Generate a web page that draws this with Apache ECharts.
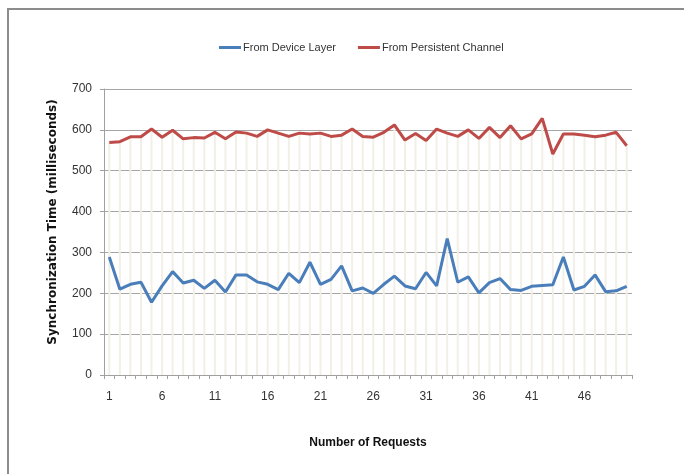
<!DOCTYPE html>
<html>
<head>
<meta charset="utf-8">
<script src="https://cdn.jsdelivr.net/npm/echarts@6/dist/echarts.min.js"></script>
<style>
  html, body { margin: 0; padding: 0; background: #fff; }
  #chart { width: 684px; height: 474px; }
</style>
</head>
<body>
<div id="chart"></div>
<script>
// Request numbers 1..50
const requests = [
  1, 2, 3, 4, 5, 6, 7, 8, 9, 10,
  11, 12, 13, 14, 15, 16, 17, 18, 19, 20,
  21, 22, 23, 24, 25, 26, 27, 28, 29, 30,
  31, 32, 33, 34, 35, 36, 37, 38, 39, 40,
  41, 42, 43, 44, 45, 46, 47, 48, 49, 50
];

// Synchronization time (ms) measured from the device layer
const deviceLayer = [
  289, 210, 222, 227, 178, 218, 253, 225, 232, 212,
  232, 203, 245, 245, 228, 222, 209, 249, 226, 276,
  222, 234, 267, 206, 213, 200, 222, 242, 218, 211,
  251, 218, 334, 227, 240, 201, 226, 236, 209, 207,
  217, 219, 221, 289, 208, 217, 245, 204, 206, 217
];

// Synchronization time (ms) measured from the persistent channel
const persistentChannel = [
  569, 571, 583, 583, 602, 582, 599, 578, 581, 580,
  594, 578, 595, 592, 584, 600, 592, 584, 592, 590,
  592, 584, 587, 602, 584, 582, 594, 612, 575, 591,
  574, 602, 592, 584, 600, 579, 606, 581, 610, 578,
  590, 628, 541, 590, 590, 587, 583, 587, 594, 561
];

// Value axis ticks
const yTicks = [0, 100, 200, 300, 400, 500, 600, 700];

const textFont = "'Liberation Sans Narrow', 'Liberation Sans', sans-serif";

// Drop lines run from each request down to the axis, up to the higher series
const dropLines = requests.map((_, i) => Math.max(deviceLayer[i], persistentChannel[i]));

const chart = echarts.init(document.getElementById('chart'), null, { renderer: 'canvas' });

chart.setOption({
  animation: false,
  backgroundColor: '#ffffff',
  graphic: [{
    type: 'polyline',
    shape: { points: [[8, 480], [8, 9], [690, 9]] },
    style: { stroke: '#8c8c8c', lineWidth: 2, fill: null },
    silent: true
  }],
  legend: {
    data: ['From Device Layer', 'From Persistent Channel'],
    top: 37,
    left: 214,
    itemWidth: 22,
    itemHeight: 3,
    itemGap: 22,
    icon: 'rect',
    textStyle: { fontFamily: textFont, fontSize: 11, color: '#333', padding: [0, 0, 0, -3] }
  },
  grid: { left: 104, right: 52, top: 89, bottom: 99 },
  xAxis: {
    type: 'category',
    data: requests,
    boundaryGap: true,
    name: 'Number of Requests',
    nameLocation: 'middle',
    nameGap: 62,
    nameTextStyle: { fontFamily: textFont, fontWeight: 'bold', fontSize: 12, color: '#111' },
    axisLine: { lineStyle: { color: '#a0a0a0', width: 1 } },
    axisTick: { show: true, interval: 0, length: 4, lineStyle: { color: '#a0a0a0' } },
    axisLabel: { interval: 4, margin: 16, fontFamily: textFont, fontSize: 12, color: '#333' },
    splitLine: { show: false }
  },
  yAxis: {
    type: 'value',
    min: yTicks[0],
    max: yTicks[yTicks.length - 1],
    interval: 100,
    name: 'Synchronization Time (milliseconds)',
    nameLocation: 'middle',
    nameGap: 45,
    nameTextStyle: { fontFamily: "'DejaVu Sans', sans-serif", fontWeight: 'bold', fontSize: 12, color: '#111', padding: [0, 0, 0, 20] },
    axisLine: { show: true, lineStyle: { color: '#a0a0a0', width: 1 } },
    axisTick: { show: true, length: 4, lineStyle: { color: '#a0a0a0' } },
    axisLabel: { margin: 12, fontFamily: textFont, fontSize: 12, color: '#333' },
    splitLine: { show: true, lineStyle: { color: '#a6a6a6', width: 1 } }
  },
  series: [
    {
      name: 'drop',
      type: 'bar',
      data: dropLines,
      barWidth: 2,
      itemStyle: { color: '#f1efe6' },
      silent: true,
      z: 1
    },
    {
      name: 'From Device Layer',
      type: 'line',
      data: deviceLayer,
      symbol: 'none',
      lineStyle: { color: '#4a7ebb', width: 3 },
      itemStyle: { color: '#4a7ebb' },
      z: 3
    },
    {
      name: 'From Persistent Channel',
      type: 'line',
      data: persistentChannel,
      symbol: 'none',
      lineStyle: { color: '#be4b48', width: 3 },
      itemStyle: { color: '#be4b48' },
      z: 3
    }
  ]
});
</script>
</body>
</html>
